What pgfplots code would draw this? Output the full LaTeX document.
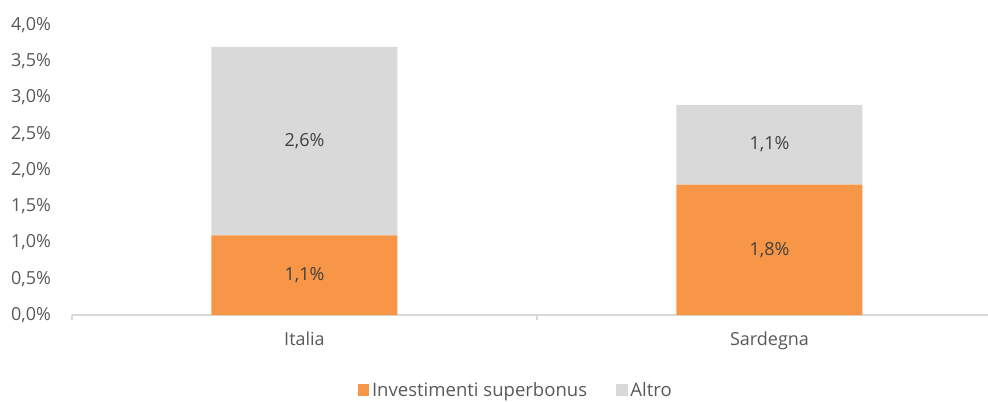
\documentclass[border=0pt]{standalone}
\usepackage{pgfplots}
\pgfplotsset{compat=1.18}
\usepackage{fontspec}
\setmainfont{Open Sans}
\usetikzlibrary{calc}
\definecolor{sbOrange}{HTML}{F79646}
\definecolor{sbGray}{HTML}{D9D9D9}
\definecolor{txtGray}{HTML}{595959}
\definecolor{lblGray}{HTML}{404040}
\definecolor{axGray}{HTML}{D9D9D9}
\newcommand\chartfont{\fontsize{13.5}{16}\selectfont}
\newcommand\legfont{\fontsize{13.9}{16}\selectfont}

% stacked shares (% of GDP growth)
\pgfplotstableread{
x sb altro
0 1.1 2.6
1 1.8 1.1
}\datatab
% data labels at segment middles
\pgfplotstableread{
x y v
0 0.55 1.1
0 2.40 2.6
1 0.90 1.8
1 2.35 1.1
}\labtab

\begin{document}
\begin{tikzpicture}
\pgfplotsset{
  common/.style={
    scale only axis, width=687pt, height=217.5pt,
    xmin=-0.5, xmax=1.47, ymin=0, ymax=4,
    /pgf/number format/assume math mode=true,
  }
}
\begin{axis}[common, name=ax,
  ybar stacked, bar width=139.5pt,
  axis lines*=left,
  y axis line style={draw=none},
  x axis line style={draw=axGray, line width=1pt, -},
  ytick={0,0.5,1,1.5,2,2.5,3,3.5,4},
  ytick style={draw=none},
  yticklabel={\pgfmathprintnumber[fixed,fixed zerofill,precision=1,use comma]{\tick}\%},
  xtick={0,1}, xticklabels={Italia,Sardegna},
  xtick style={draw=none},
  minor xtick={-0.5,0.5,1.5},
  minor x tick style={draw=axGray, line width=1pt},
  minor tick length=4pt, tick align=outside,
  tick label style={font=\chartfont, text=txtGray},
  yticklabel style={xshift=-8pt},
  xticklabel style={yshift=-5pt},
  legend style={at={(0.485,-0.2586)}, anchor=center, draw=none, fill=none,
    legend columns=2, font=\legfont, text=txtGray,
    /tikz/every even column/.append style={column sep=20pt}},
]
\addplot[fill=sbOrange, draw=none,
  legend image code/.code={\fill[sbOrange] (0pt,-4.2pt) rectangle (8.5pt,4.2pt);}]
  table[x=x, y=sb] {\datatab};
\addplot[fill=sbGray, draw=none,
  legend image code/.code={\fill[sbGray] (0pt,-4.2pt) rectangle (8.5pt,4.2pt);}]
  table[x=x, y=altro] {\datatab};
\legend{Investimenti superbonus, Altro}
\end{axis}
\begin{axis}[common, hide axis]
\addplot[draw=none, mark=none,
  point meta=\thisrow{v},
  nodes near coords={\pgfmathprintnumber[fixed,fixed zerofill,precision=1,use comma]{\pgfplotspointmeta}\%},
  nodes near coords style={anchor=center, font=\chartfont, text=lblGray}]
  table[x=x, y=y] {\labtab};
\end{axis}
\pgfresetboundingbox
\path[use as bounding box] ($(ax.south west)+(-54pt,-64.5pt)$) rectangle ($(ax.south west)+(687pt,236.25pt)$);
\end{tikzpicture}
\end{document}
